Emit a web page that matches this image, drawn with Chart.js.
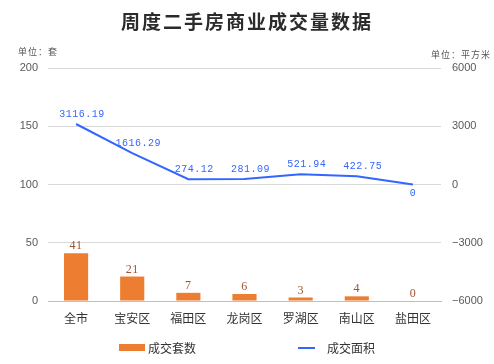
<!DOCTYPE html>
<html>
<head>
<meta charset="utf-8">
<script src="https://cdn.jsdelivr.net/npm/chart.js@4"></script>
<style>
  html, body { margin: 0; padding: 0; background: #fff; }
  #wrap { position: relative; width: 494px; height: 364px; font-family: 'Noto Sans CJK SC', sans-serif; }
  canvas { position: absolute; left: 0; top: 0; }
  .title { position: absolute; left: 0; width: 494px; top: 7px; text-align: center; font-size: 19px; font-weight: bold; letter-spacing: 2px; color: #2b2b2b; }
  .unit { position: absolute; font-size: 9px; color: #555; letter-spacing: 1px; }
  .legend { position: absolute; top: 339px; font-size: 12px; color: #333; display: flex; align-items: center; }
</style>
</head>
<body>
<div id="wrap">
  <canvas id="c" width="494" height="364"></canvas>
  <div class="title">周度二手房商业成交量数据</div>
  <div class="unit" style="left:18px;top:45px">单位：套</div>
  <div class="unit" style="right:3px;top:48px">单位：平方米</div>
  <div class="legend" style="left:119px"><span style="display:inline-block;width:26px;height:7px;background:#ed7d31;margin-right:3px"></span>成交套数</div>
  <div class="legend" style="left:298px"><span style="display:inline-block;width:17px;height:2px;background:#3366ff;margin-right:12px"></span>成交面积</div>
</div>
<script>
  const districts = ['全市', '宝安区', '福田区', '龙岗区', '罗湖区', '南山区', '盐田区'];
  const units = [41, 21, 7, 6, 3, 4, 0];
  const area = [3116.19, 1616.29, 274.12, 281.09, 521.94, 422.75, 0];

  const BAR = '#ed7d31', LINE = '#3366ff', GRID = '#d9d9d9';

  // value labels above bars / line points
  const valueLabels = {
    id: 'valueLabels',
    afterDatasetsDraw(chart) {
      const ctx = chart.ctx;
      ctx.save();
      ctx.textAlign = 'center';
      chart.data.datasets.forEach((ds, i) => {
        const meta = chart.getDatasetMeta(i);
        meta.data.forEach((el, j) => {
          const v = ds.data[j];
          if (ds.type === 'bar') {
            ctx.font = "12px 'Liberation Serif'";
            ctx.fillStyle = '#a0522d';
            ctx.textBaseline = 'bottom';
            ctx.fillText(String(v), el.x, el.y - 1);
          } else {
            ctx.font = "10px 'Liberation Mono'";
            ctx.letterSpacing = '0.5px';
            ctx.fillStyle = LINE;
            if (v === 0) {
              ctx.textBaseline = 'top';
              ctx.fillText('0', el.x, el.y + 4);
            } else {
              ctx.textBaseline = 'bottom';
              ctx.fillText(v.toFixed(2), el.x + 6, el.y - 5);
            }
          }
        });
      });
      ctx.restore();
    }
  };

  new Chart(document.getElementById('c'), {
    data: {
      labels: districts,
      datasets: [
        { type: 'line', label: '成交面积', data: area, yAxisID: 'y1', borderColor: LINE, backgroundColor: LINE, borderWidth: 2, pointRadius: 0, tension: 0, order: 0 },
        { type: 'bar', label: '成交套数', data: units, yAxisID: 'y', backgroundColor: BAR, barPercentage: 0.43, categoryPercentage: 1, order: 1 }
      ]
    },
    options: {
      responsive: false, animation: false,
      layout: { padding: { top: 68, left: 0, right: 0, bottom: 0 } },
      plugins: { legend: { display: false }, tooltip: { enabled: false } },
      scales: {
        x: {
          grid: { display: false, drawTicks: false },
          border: { color: '#bfbfbf' },
          ticks: { padding: 10, color: '#333', font: { size: 12, family: "'Noto Sans CJK SC'" } },
          afterFit: (s) => { s.height = 63; }
        },
        y: {
          position: 'left', min: 0, max: 200,
          ticks: { stepSize: 50, color: '#595959', padding: 10, font: { size: 11, family: "'Liberation Sans'" } },
          grid: { color: GRID, drawTicks: false },
          border: { display: false },
          afterFit: (s) => { s.width = 48; }
        },
        y1: {
          position: 'right', min: -6000, max: 6000,
          ticks: { stepSize: 3000, color: '#595959', padding: 11, font: { size: 11, family: "'Liberation Sans'" }, callback: (v) => v < 0 ? '\u2212' + Math.abs(v) : String(v) },
          grid: { display: false, drawTicks: false },
          border: { display: false },
          afterFit: (s) => { s.width = 53; }
        }
      }
    },
    plugins: [valueLabels]
  });
</script>
</body>
</html>
